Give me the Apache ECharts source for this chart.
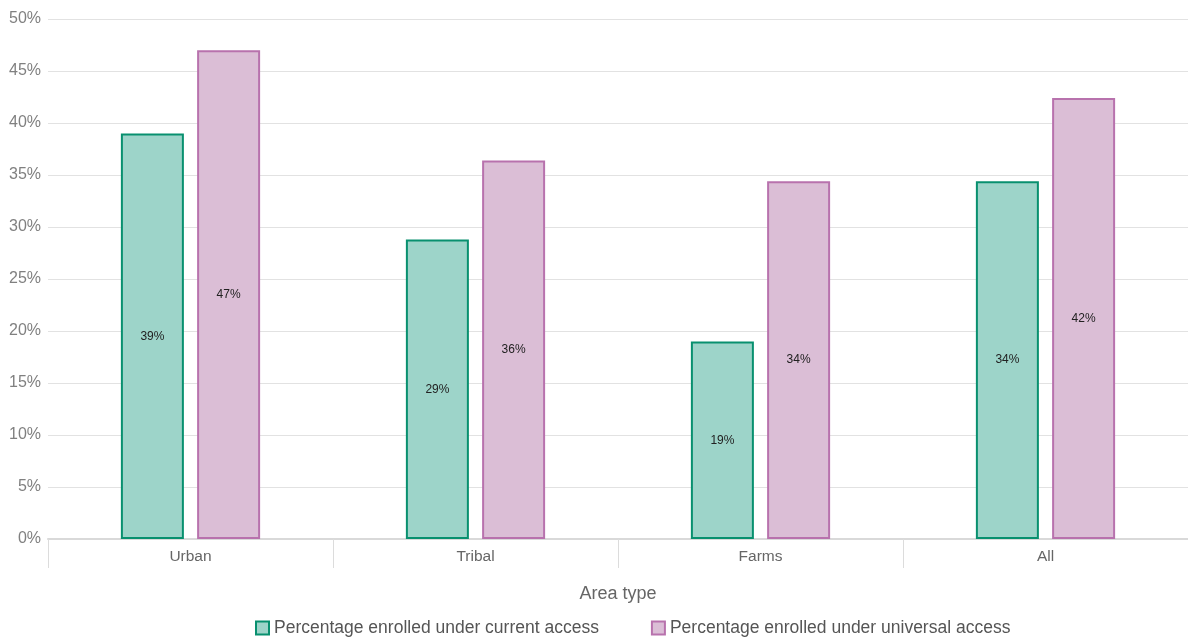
<!DOCTYPE html>
<html><head><meta charset="utf-8">
<script src="https://cdn.jsdelivr.net/npm/echarts@6/dist/echarts.min.js"></script>
<style>html,body{margin:0;padding:0;background:#fff}#c{width:1188px;height:639px}</style>
</head><body><div id="c"></div>
<script>
var categories = ['Urban', 'Tribal', 'Farms', 'All'];
var currentAccess = [39.0, 28.8, 19.0, 34.4];
var universalAccess = [47.0, 36.4, 34.4, 42.4];
var seriesNames = ['Percentage enrolled under current access', 'Percentage enrolled under universal access'];
var yTicks = [0, 5, 10, 15, 20, 25, 30, 35, 40, 45, 50];

var FONT = '"Liberation Sans", Arial, sans-serif';
var chart = echarts.init(document.getElementById('c'));
function lbl(p){ return Math.round(p.value) + '%'; }
chart.setOption({
  animation: false,
  textStyle: { fontFamily: FONT },
  grid: { left: 48, width: 1144, top: 19, bottom: 100, containLabel: false },
  legend: {
    top: 614, left: 250,
    icon: 'rect',
    itemWidth: 13, itemHeight: 13, itemGap: 52,
    textStyle: { fontSize: 17.5, color: '#555', fontFamily: FONT },
    data: seriesNames
  },
  xAxis: {
    type: 'category', data: categories,
    name: 'Area type', nameLocation: 'middle', nameGap: 46,
    nameTextStyle: { fontSize: 18, color: '#666', fontFamily: FONT },
    axisLine: { lineStyle: { color: '#d9d9d9', width: 2 } },
    axisTick: { show: true, length: 29, lineStyle: { color: '#dcdcdc', width: 1 } },
    axisLabel: { fontSize: 15.5, color: '#666', margin: 10, fontFamily: FONT }
  },
  yAxis: {
    type: 'value', min: yTicks[0], max: yTicks[yTicks.length - 1], interval: 5,
    axisLine: { show: false }, axisTick: { show: false },
    axisLabel: { fontSize: 16, color: '#808080', margin: 7, formatter: '{value}%', fontFamily: FONT },
    splitLine: { lineStyle: { color: '#e2e2e2', width: 1 } }
  },
  series: [
    {
      name: seriesNames[0], type: 'bar', data: currentAccess,
      barWidth: 63, barGap: '21%',
      itemStyle: { color: '#9dd4c9', borderColor: '#08906f', borderWidth: 2 },
      label: { show: true, position: 'inside', formatter: lbl, fontSize: 12, color: '#222', fontFamily: FONT }
    },
    {
      name: seriesNames[1], type: 'bar', data: universalAccess,
      barWidth: 63, barGap: '21%',
      itemStyle: { color: '#dbbed6', borderColor: '#b872ad', borderWidth: 2 },
      label: { show: true, position: 'inside', formatter: lbl, fontSize: 12, color: '#222', fontFamily: FONT }
    }
  ]
});
</script></body></html>
